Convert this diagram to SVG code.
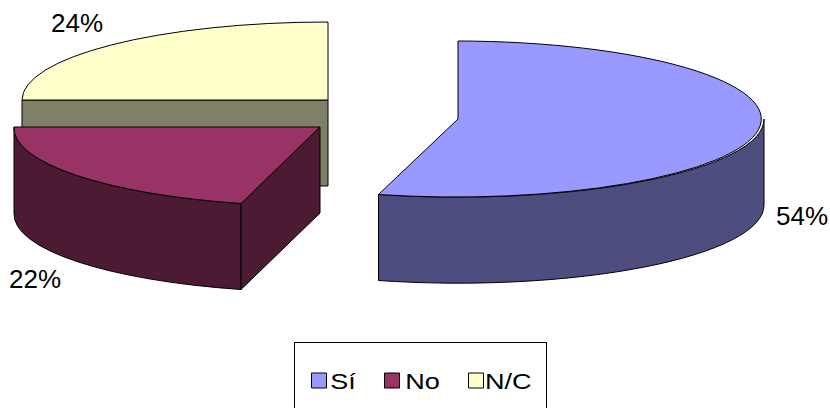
<svg xmlns="http://www.w3.org/2000/svg" width="830" height="408" viewBox="0 0 830 408">
<style>
.s{stroke:#000;stroke-width:1;stroke-linejoin:round}
.lbl{font-family:"Liberation Sans",Arial,sans-serif;font-size:26px;fill:#000}
.leg{font-family:"Liberation Sans",Arial,sans-serif;font-size:22px;fill:#000}
</style>
<rect width="830" height="408" fill="#fff"/>
<g id="slice-nc">
<rect class="s" x="22" y="100" width="306" height="86" fill="#808066"/>
<path class="s" d="M328,100 L22,100 A306,78 0 0 1 328,22 Z" fill="#FFFFCC"/>
</g>
<g id="slice-no">
<path class="s" d="M14,127 A306,78 0 0 0 241,203.5 L241,289.5 A306,78 0 0 1 14,213 Z" fill="#4D1A33"/>
<path class="s" d="M241,203.5 L320,127 L320,213 L241,289.5 Z" fill="#4D1A33"/>
<path class="s" d="M320,127 L14,127 A306,78 0 0 0 241,203.5 Z" fill="#993366"/>
</g>
<g id="slice-si">
<path class="s" d="M764,119 A306,78 0 0 1 378.5,194.5 L378.5,280.5 A306,78 0 0 0 764,205 Z" fill="#4D4D80"/>
<path class="s" d="M458,119 L458,41 A306,78 0 1 1 378.5,194.5 Z" fill="#9999FF"/>
</g>
<g id="labels">
<text class="lbl" x="51" y="31.5">24%</text>
<text class="lbl" x="9" y="287.5">22%</text>
<text class="lbl" x="776" y="225">54%</text>
</g>
<g id="legend">
<rect x="294.5" y="342.5" width="252" height="80" fill="#fff" stroke="#000" stroke-width="1"/>
<rect class="s" x="311.5" y="373" width="15" height="15" fill="#9999FF"/>
<text class="leg" transform="translate(330.3,388.5) scale(1.23,1)">Sí</text>
<rect class="s" x="384.5" y="373" width="15" height="15" fill="#993366"/>
<text class="leg" transform="translate(405.3,388.5) scale(1.23,1)">No</text>
<rect class="s" x="468.5" y="373" width="15" height="15" fill="#FFFFCC"/>
<text class="leg" transform="translate(485,388.5) scale(1.23,1)">N/C</text>
</g>
</svg>
